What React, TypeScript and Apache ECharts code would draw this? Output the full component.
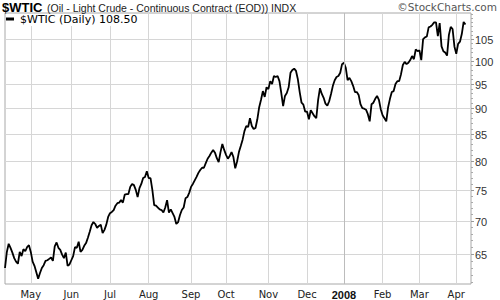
import { useEffect, useRef } from 'react';
import * as echarts from 'echarts';

// ---- categories (trading days) ----
const START_DATE = '2007-04-11';
const END_DATE = '2008-04-11';
const HOLIDAYS = ['2007-05-28', '2007-07-04', '2007-09-03', '2007-11-22', '2007-12-25', '2008-01-01', '2008-01-21', '2008-02-18', '2008-03-21'];
const MONTHS = ['Jan', 'Feb', 'Mar', 'Apr', 'May', 'Jun', 'Jul', 'Aug', 'Sep', 'Oct', 'Nov', 'Dec'];

// ---- y tick labels ----
const Y_TICKS = [65, 70, 75, 80, 85, 90, 95, 100, 105];
const Y_MINOR = [61, 62, 63, 64, 66, 67, 68, 69, 71, 72, 73, 74, 76, 77, 78, 79, 81, 82, 83, 84, 86, 87, 88, 89, 91, 92, 93, 94, 96, 97, 98, 99, 101, 102, 103, 104, 106, 107, 108, 109, 110, 111];

// ---- daily closes ----
const PRICES = [
  63.0, 65.3, 66.5, 65.9, 65.2, 64.4, 63.9, 63.6, 65.3, 64.7, 65.7, 65.4, 66.0, 66.3,
  65.3, 63.9, 63.3, 62.4, 61.5, 62.3, 63.0, 63.4, 64.0, 64.1, 64.3, 64.5, 64.0, 66.1, 66.7, 65.9, 65.6, 64.9, 64.4, 65.2, 63.3, 63.5,
  64.1, 64.7, 66.0, 65.9, 66.8, 65.3, 65.6, 66.2, 66.6, 67.4, 68.3, 69.3, 69.8, 69.5, 68.9, 69.2, 69.4, 68.1, 68.6, 69.4, 70.6,
  71.2, 71.4, 71.7, 72.4, 72.8, 72.9, 73.3, 72.9, 74.2, 74.3, 74.3, 75.5, 76.0, 75.8, 75.0, 73.8, 75.3, 76.0, 77.0, 77.2, 78.2,
  77.0, 77.0, 75.0, 72.5, 72.4, 72.1, 71.8, 71.7, 71.3, 72.1, 73.3, 71.3, 71.8, 71.2, 70.6, 69.5, 69.8, 70.9, 71.7, 72.1, 73.6, 73.8, 74.5,
  75.5, 76.0, 76.6, 77.2, 77.9, 78.4, 78.8, 78.8, 79.6, 80.4, 80.9, 81.5, 82.0, 81.5, 80.5, 79.8, 81.6, 83.1, 82.0,
  81.1, 80.4, 80.9, 81.6, 80.7, 78.7, 79.9, 81.6, 82.7, 83.9, 85.5, 86.5, 86.3, 88.0, 86.5, 85.9, 86.1, 87.8, 90.2, 91.7, 93.5, 92.3, 94.3,
  93.9, 95.6, 95.0, 96.7, 96.5, 96.7, 95.6, 93.1, 90.4, 92.5, 93.1, 94.3, 97.4, 98.0, 98.3, 97.8, 96.0, 93.3, 91.1, 90.7, 89.3,
  89.3, 87.8, 89.6, 89.0, 88.4, 88.0, 91.7, 94.1, 92.9, 92.1, 90.9, 90.5, 91.4, 92.9, 94.6, 95.8, 96.5, 96.7, 97.4, 99.3,
  99.6, 98.5, 95.8, 96.3, 95.6, 94.6, 93.3, 93.3, 92.7, 90.8, 90.0, 89.9, 89.7, 88.8, 87.4, 90.8, 91.1, 91.9, 92.5, 91.7, 89.8,
  88.6, 88.0, 87.4, 90.2, 91.9, 93.3, 93.5, 95.0, 95.6, 95.6, 97.1, 99.1, 99.8, 99.3, 99.6, 100.2, 101.1, 100.4, 102.6, 102.2,
  102.4, 100.2, 105.0, 105.4, 105.6, 107.8, 108.0, 108.4, 109.0, 109.0, 105.7, 108.8, 103.3, 102.2, 101.9, 101.2, 106.0, 107.9, 107.4, 103.3,
  101.6, 103.9, 104.4, 106.2, 109.1, 108.5,
];

function tradingDays(): string[] {
  const out: string[] = [];
  const d = new Date(START_DATE + 'T00:00:00Z');
  const end = new Date(END_DATE + 'T00:00:00Z');
  while (d.getTime() <= end.getTime()) {
    const wd = d.getUTCDay();
    const s = d.toISOString().slice(0, 10);
    if (wd !== 0 && wd !== 6 && HOLIDAYS.indexOf(s) < 0) out.push(s);
    d.setUTCDate(d.getUTCDate() + 1);
  }
  return out;
}

export default function App() {
  const ref = useRef<HTMLDivElement>(null);
  useEffect(() => {
    if (!ref.current) return;
    const chart = echarts.init(ref.current, undefined, { renderer: 'svg' });
    const dates = tradingDays();
    const values = dates.map((_, i) => (i < PRICES.length ? PRICES[i] : null));
    const isMonthStart = dates.map((s, i) => i > 0 && s.slice(5, 7) !== dates[i - 1].slice(5, 7));
    const monthInterval = (index: number) => isMonthStart[index];

    chart.setOption({
      animation: false,
      textStyle: { fontFamily: '"DejaVu Sans", Verdana, sans-serif' },
      grid: {
        left: 5, right: 29, top: 13, bottom: 16,
        show: true, borderColor: '#a8a8a8', borderWidth: 1, backgroundColor: '#fff',
        outerBoundsMode: 'none',
      },
      xAxis: {
        type: 'category',
        data: dates,
        boundaryGap: false,
        axisLine: { show: false },
        axisTick: { show: false },
        axisLabel: {
          interval: monthInterval,
          margin: 5,
          fontSize: 10,
          fontFamily: '"DejaVu Sans", Verdana, sans-serif',
          color: '#222',
          formatter: (v: string) => {
            const m = parseInt(v.slice(5, 7), 10) - 1;
            return m === 0 ? '{b|' + v.slice(0, 4) + '}' : MONTHS[m];
          },
          rich: { b: { fontWeight: 'bold', fontSize: 11, fontFamily: '"Liberation Sans", Arial, sans-serif', color: '#111' } },
        },
        splitLine: { show: true, interval: monthInterval, lineStyle: { color: '#d6d6d6', width: 1 } },
      },
      yAxis: {
        type: 'log',
        logBase: 10,
        min: 60.79,
        max: 111.3,
        position: 'right',
        axisLine: { show: false },
        axisTick: { show: false },
        axisLabel: { show: false },
        splitLine: { show: false },
      },
      series: [
        {
          type: 'custom',
          z: 1,
          silent: true,
          data: Y_TICKS.map((v) => [0, v]),
          encode: { x: 0, y: 1 },
          renderItem: (params: any, api: any) => {
            const v = api.value(1);
            const y = Math.round(api.coord([0, v])[1]) + 0.5;
            const cs = params.coordSys;
            const r = cs.x + cs.width;
            return {
              type: 'group',
              children: [
                { type: 'line', shape: { x1: cs.x, y1: y, x2: r, y2: y }, style: { stroke: '#d6d6d6', lineWidth: 1 } },
                { type: 'line', shape: { x1: r, y1: y, x2: r + 3, y2: y }, style: { stroke: '#999', lineWidth: 1 } },
                {
                  type: 'text', x: r + 4, y: y,
                  style: { text: String(v), fill: '#333', font: '11px "Liberation Sans", Arial, sans-serif', align: 'left', verticalAlign: 'middle' },
                },
              ],
            };
          },
          markLine: {
            silent: true,
            symbol: ['none', 'none'],
            label: { show: false },
            lineStyle: { color: '#bcbcbc', type: 'solid', width: 1 },
            data: [{ xAxis: '2008-01-02' }],
          },
        },
        {
          type: 'custom',
          z: 1,
          silent: true,
          data: Y_MINOR.map((v) => [0, v]),
          encode: { x: 0, y: 1 },
          renderItem: (params: any, api: any) => {
            const y = Math.round(api.coord([0, api.value(1)])[1]) + 0.5;
            const cs = params.coordSys;
            const r = cs.x + cs.width;
            return { type: 'line', shape: { x1: r, y1: y, x2: r + 2, y2: y }, style: { stroke: '#aaa', lineWidth: 1 } };
          },
        },
        {
          type: 'line',
          data: values,
          z: 3,
          showSymbol: false,
          symbol: 'none',
          connectNulls: false,
          lineStyle: { color: '#000', width: 1.8 },
        },
      ],
      graphic: [
        { type: 'text', x: 2, y: 7, z: 10, style: { text: '$WTIC', font: 'bold 13px "Liberation Sans", Arial, sans-serif', fill: '#000', verticalAlign: 'middle' } },
        { type: 'text', x: 47, y: 7.5, z: 10, style: { text: '(Oil - Light Crude - Continuous Contract (EOD)) INDX', font: '10.5px "Liberation Sans", Arial, sans-serif', fill: '#222', verticalAlign: 'middle' } },
        { type: 'text', x: 497, y: 7, z: 10, style: { text: '\u00A9StockCharts.com', font: '10.5px "DejaVu Sans", Verdana, sans-serif', fill: '#555', align: 'right', verticalAlign: 'middle' } },
        { type: 'rect', z: 9, shape: { x: 6, y: 14, width: 140, height: 12 }, style: { fill: '#fff' } },
        { type: 'line', z: 10, shape: { x1: 6, y1: 19, x2: 14, y2: 19 }, style: { stroke: '#000', lineWidth: 3 } },
        { type: 'text', x: 20, y: 19.5, z: 10, style: { text: '$WTIC (Daily) 108.50', font: '11px "DejaVu Sans", Verdana, sans-serif', fill: '#000', verticalAlign: 'middle' } },
      ],
    });
    return () => chart.dispose();
  }, []);
  return <div ref={ref} style={{ position: 'fixed', left: 0, top: 0, width: 500, height: 300, background: '#fff' }} />;
}
